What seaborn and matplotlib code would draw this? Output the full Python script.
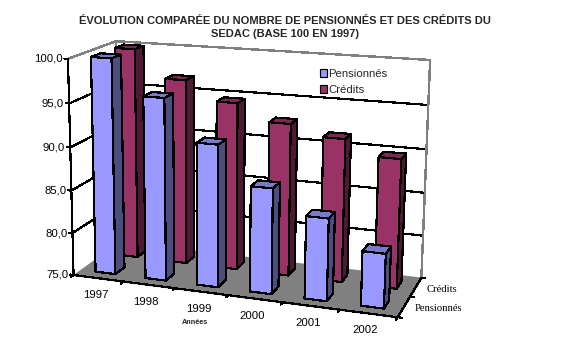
import numpy as np
import matplotlib
matplotlib.use("Agg")
import matplotlib.pyplot as plt
from matplotlib.patches import Patch
from mpl_toolkits.mplot3d.art3d import Poly3DCollection
import seaborn as sns

# ---- data ----
years = ["1997", "1998", "1999", "2000", "2001", "2002"]
series = ["Pensionnés", "Crédits"]
pensionnes = [100.0, 96.0, 91.3, 87.0, 84.3, 81.1]
credits_ = [100.0, 96.8, 94.6, 92.7, 91.5, 89.8]
value_ticks = [75, 80, 85, 90, 95, 100]
title = "ÉVOLUTION COMPARÉE DU NOMBRE DE PENSIONNÉS ET DES CRÉDITS DU\nSEDAC (BASE 100 EN 1997)"
x_title = "Années"

# ---- style ----
sns.set_theme(style="white")
plt.rcParams["font.family"] = ["Liberation Sans", "DejaVu Sans"]
palette = sns.color_palette(["#9999FF", "#993366"])
tops = ["#7A7ACC", "#7A2952"]
sides = ["#4D4D80", "#4D1A33"]
W, H = 565, 351

# Camera: where the corners of the chart box fall in the picture
box = [((0, 0, 75), (75, 276)), ((6, 0, 75), (397, 317)), ((6, 2, 75), (422, 278)),
       ((0, 2, 75), (118, 241)), ((0, 0, 100), (67, 58)), ((0, 2, 100), (117, 42)),
       ((6, 2, 100), (430, 60))]


def fit_camera(pairs):
    rows = []
    for (x, y, z), (u, v) in pairs:
        p = [x, y, z, 1]
        rows.append(p + [0, 0, 0, 0] + [-u * c for c in p])
        rows.append([0, 0, 0, 0] + p + [-v * c for c in p])
    cam = np.linalg.svd(np.array(rows, float))[2][-1].reshape(3, 4)
    if cam[2] @ np.array([3, 1, 85, 1]) < 0:
        cam = -cam
    return cam


camera = fit_camera(box)
flip = np.array([[1, 0, 0], [0, -1, H], [0, 0, 1.0]])
depth = camera[2] @ np.array([3, 1, 85, 1])

fig = plt.figure(figsize=(W / 100, H / 100), dpi=100, facecolor="white")
side = W / H
ax = fig.add_axes([0, (1 - side) / 2, 1, side], projection="3d", computed_zorder=False)
ax.set_proj_type("ortho")
ax.set_xticks([])
ax.set_yticks([])
ax.set_zticks([])
ax.set_axis_off()
ax.patch.set_alpha(0)


def get_proj():
    to_axes = ax.transData.inverted().get_matrix()
    top = to_axes @ flip @ camera
    M = np.eye(4)
    M[0], M[1], M[3] = top[0], top[1], top[2]
    M[2] = top[2] - np.array([0, 0, 0, 0.5 * depth])
    return M


ax.get_proj = get_proj
z_order = iter(range(1, 500))


def line(xs, ys, zs, color="black", lw=0.85):
    ax.plot(xs, ys, zs, color=color, lw=lw, antialiased=False, zorder=next(z_order))


def label(x, y, z, dx, dy, text, **kw):
    """Text placed at a 3D chart position plus an offset in pixels."""
    u, v, w = camera @ np.array([x, y, z, 1.0])
    fig.text((u / w + dx) / W, 1 - (v / w + dy) / H, text, color="black", **kw)


# floor
nx, ny = len(years), len(series)
z0 = value_ticks[0]
floor = Poly3DCollection([[(0, 0, z0), (nx, 0, z0), (nx, ny, z0), (0, ny, z0)]],
                         facecolor="#808080", edgecolor="#808080", zorder=next(z_order))
ax.add_collection3d(floor)

# walls
for v in value_ticks[1:-1]:
    line([0, 0, nx], [0, ny, ny], [v, v, v])
line([0, 0, nx, nx], [0, ny, ny, ny], [value_ticks[-1]] * 3 + [z0], color="#808080", lw=1.0)
line([0, 0], [ny, ny], [z0, value_ticks[-1]], color="#808080", lw=1.0)
line([0, 0], [0, 0], [z0, value_ticks[-1]])

# bars, back row first, left to right
gap, bw = 0.3, 0.4
for row in (1, 0):
    vals = credits_ if row == 1 else pensionnes
    face = palette[row]
    faces = [face, tops[row], face, face, sides[row], sides[row]]
    for i, v in enumerate(vals):
        bar = ax.bar3d([i + gap], [row + gap], [z0], bw, bw, v - z0, color=faces,
                       shade=False, edgecolor="black", linewidth=0.85,
                       zorder=next(z_order))
        bar.set_antialiased(False)

# axis lines and ticks
line([0, nx, nx], [0, 0, ny], [z0, z0, z0])
for i in range(nx + 1):
    line([i, i], [0, -0.11], [z0, z0])
for j in range(ny + 1):
    line([nx, nx + 0.07], [j, j], [z0, z0])
for v in value_ticks:
    line([0, -0.07], [0, 0], [v, v])

# tick labels
for v in value_ticks:
    label(0, 0, v, -5, 0, f"{v:.1f}".replace(".", ","), ha="right", va="center", fontsize=8.2)
for i, y in enumerate(years):
    label(i + 0.5, 0, z0, -3, 17, y, ha="center", va="center", fontsize=8.2)
for j, s in enumerate(series):
    label(nx, j + 0.5, z0, 10.5, 2, s, ha="left", va="center", fontsize=7.7,
          family="Liberation Serif")

fig.text(182 / W, 1 - 323 / H, x_title, fontsize=5.2, fontweight="bold", ha="left", va="center")
fig.text(285 / W, 1 - 27.5 / H, title, fontsize=8.05, fontweight="bold", ha="center", va="center",
         linespacing=1.28)

handles = [Patch(facecolor=palette[i], edgecolor="black", linewidth=0.85) for i in range(2)]
ax.legend(handles, series, loc="upper left", bbox_to_anchor=(318 / W, 1 - 67 / H),
          bbox_transform=fig.transFigure, frameon=False, fontsize=8.2, handlelength=0.6,
          handleheight=0.7, handletextpad=0.1, labelspacing=0.52, borderpad=0.2,
          borderaxespad=0).set_zorder(450)

fig.savefig("out.png", dpi=100)
